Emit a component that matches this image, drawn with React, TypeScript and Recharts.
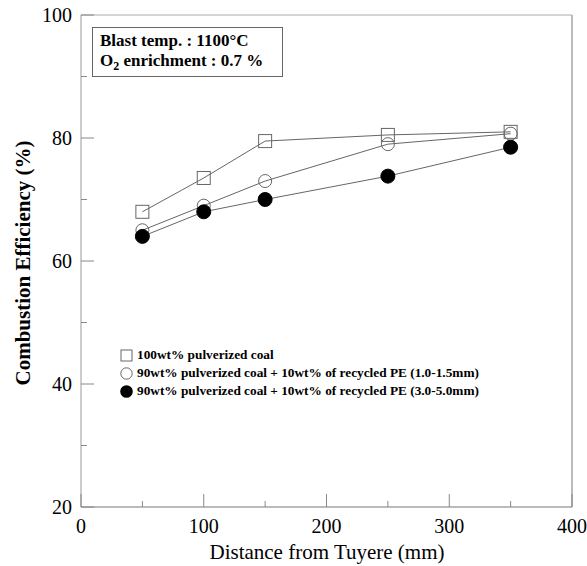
import React from 'react';
import { LineChart, Line, XAxis, YAxis, ReferenceLine, Label } from 'recharts';

const distances = [50, 100, 150, 250, 350];
const coalOnly = [68, 73.5, 79.5, 80.5, 81];
const peFine = [65, 69, 73, 79, 80.7];
const peCoarse = [64, 68, 70, 73.8, 78.5];

const xTicks = [0, 50, 100, 150, 200, 250, 300, 350, 400];
const yTicks = [20, 30, 40, 50, 60, 70, 80, 90, 100];

const seriesNames = [
    '100wt% pulverized coal',
    '90wt% pulverized coal + 10wt% of recycled PE (1.0-1.5mm)',
    '90wt% pulverized coal + 10wt% of recycled PE (3.0-5.0mm)',
];

const rows = distances.map((d, i) => ({
    distance: d,
    coal: coalOnly[i],
    fine: peFine[i],
    coarse: peCoarse[i],
}));

const SERIF = '"Liberation Serif", "Times New Roman", serif';
const LINE = '#666';

const SquareDot = (props: any) => {
    const { cx, cy } = props;
    if (cx == null || cy == null) return null;
    return <rect x={cx - 6.5} y={cy - 6.5} width={13} height={13} fill="none" stroke={LINE} strokeWidth={1} />;
};

const OpenDot = (props: any) => {
    const { cx, cy } = props;
    if (cx == null || cy == null) return null;
    return <circle cx={cx} cy={cy} r={6.5} fill="none" stroke={LINE} strokeWidth={1} />;
};

const FilledDot = (props: any) => {
    const { cx, cy } = props;
    if (cx == null || cy == null) return null;
    return <circle cx={cx} cy={cy} r={7} fill="#000" stroke="#000" />;
};

// ticks point inward, labels only on major ones
const XTick = (props: any) => {
    const { x, y, payload } = props;
    const major = payload.value % 100 === 0;
    return (
        <g>
            <line x1={x} y1={y} x2={x} y2={y - (major ? 13 : 6)} stroke="#888" />
            {major && (
                <text x={x} y={y + 26} textAnchor="middle" fontFamily={SERIF} fontSize={20} fill="#000">
                    {payload.value}
                </text>
            )}
        </g>
    );
};

const YTick = (props: any) => {
    const { x, y, payload } = props;
    const major = payload.value % 20 === 0;
    return (
        <g>
            <line x1={x} y1={y} x2={x + (major ? 13 : 6)} y2={y} stroke="#888" />
            {major && (
                <text x={x - 9} y={y + 7} textAnchor="end" fontFamily={SERIF} fontSize={20} fill="#000">
                    {payload.value}
                </text>
            )}
        </g>
    );
};

const LegendMarker: React.FC<{ kind: number }> = ({ kind }) => (
    <svg width={13} height={13} style={{ display: 'block' }}>
        {kind === 0 && <rect x={1} y={1} width={11} height={11} fill="none" stroke={LINE} />}
        {kind === 1 && <circle cx={6.5} cy={6.5} r={5.7} fill="none" stroke={LINE} />}
        {kind === 2 && <circle cx={6.5} cy={6.5} r={6.3} fill="#000" />}
    </svg>
);

export default function App() {
    return (
        <div style={{ position: 'absolute', left: 0, top: 0, width: 587, height: 566, background: '#fff', fontFamily: SERIF }}>
            <LineChart width={587} height={566} data={rows} margin={{ top: 15, right: 15, bottom: 0, left: 0 }}>
                <XAxis
                    dataKey="distance"
                    type="number"
                    domain={[0, 400]}
                    ticks={xTicks}
                    interval={0}
                    height={59}
                    tickSize={0}
                    tickMargin={0}
                    tickLine={false}
                    axisLine={{ stroke: '#777' }}
                    tick={<XTick />}
                >
                    <Label
                        content={() => (
                            <text x={327} y={559} textAnchor="middle" fontFamily={SERIF} fontSize={21} fill="#000">
                                Distance from Tuyere (mm)
                            </text>
                        )}
                    />
                </XAxis>
                <YAxis
                    type="number"
                    domain={[20, 100]}
                    ticks={yTicks}
                    interval={0}
                    width={81}
                    tickSize={0}
                    tickMargin={0}
                    tickLine={false}
                    axisLine={{ stroke: '#999' }}
                    tick={<YTick />}
                >
                    <Label
                        content={() => (
                            <text
                                x={30}
                                y={263}
                                transform="rotate(-90, 30, 263)"
                                textAnchor="middle"
                                fontFamily={SERIF}
                                fontWeight="bold"
                                fontSize={21}
                                fill="#000"
                            >
                                Combustion Efficiency (%)
                            </text>
                        )}
                    />
                </YAxis>
                <ReferenceLine y={100} stroke="#aaa" />
                <ReferenceLine x={400} stroke="#bbb" strokeWidth={2} />
                <Line dataKey="coal" stroke={LINE} strokeWidth={1} dot={<SquareDot />} isAnimationActive={false} />
                <Line dataKey="fine" stroke={LINE} strokeWidth={1} dot={<OpenDot />} isAnimationActive={false} />
                <Line dataKey="coarse" stroke={LINE} strokeWidth={1} dot={<FilledDot />} isAnimationActive={false} />
            </LineChart>

            {/* condition box */}
            <div
                style={{
                    position: 'absolute',
                    left: 92,
                    top: 27,
                    width: 191,
                    height: 50,
                    boxSizing: 'border-box',
                    border: '1px solid #666',
                    padding: '3px 0 0 7px',
                    fontWeight: 'bold',
                    fontSize: 17,
                    lineHeight: '20px',
                    whiteSpace: 'nowrap',
                }}
            >
                <div>Blast temp. : 1100°C</div>
                <div>
                    O<sub style={{ fontSize: 12, lineHeight: 0 }}>2</sub> enrichment : 0.7 %
                </div>
            </div>

            {/* legend */}
            <div style={{ position: 'absolute', left: 120, top: 346, fontWeight: 'bold', fontSize: 13.3 }}>
                {seriesNames.map((name, i) => (
                    <div key={name} style={{ display: 'flex', alignItems: 'center', height: 18, whiteSpace: 'nowrap' }}>
                        <LegendMarker kind={i} />
                        <span style={{ marginLeft: 4 }}>{name}</span>
                    </div>
                ))}
            </div>
        </div>
    );
}
